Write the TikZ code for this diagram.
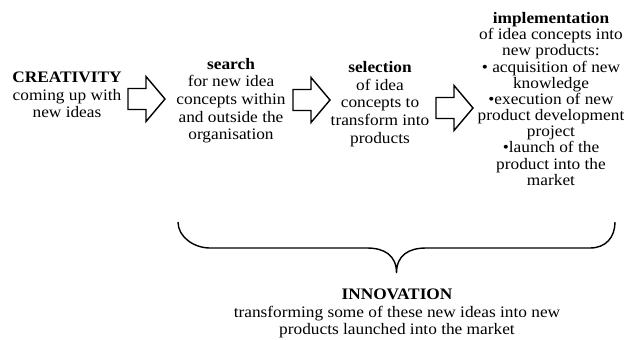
\documentclass[tikz,border=0pt]{standalone}
\usepackage{fontspec}
\setmainfont{Liberation Serif}[FakeStretch=1.08]
\usetikzlibrary{positioning}
\tikzstyle{phase} = [align=center, inner sep=0pt, font=\fontsize{11.4}{12.6}\selectfont]
\tikzstyle{phaselong} = [phase, font=\fontsize{11.4}{11.5}\selectfont]
\tikzstyle{blockarrow} = [draw=black, fill=white, line width=1pt, line join=miter]

\begin{document}
\begin{tikzpicture}
    \useasboundingbox (0,0) rectangle (15.6,8.475);
    % The four phases
    \node[phase] (creativity) at (1.675,6.1)
        {\textbf{CREATIVITY}\\coming up with\\new ideas};
    \node[phase] (search) at (5.775,5.96)
        {\textbf{search}\\for new idea\\concepts within\\and outside the\\organisation};
    \node[phase] (selection) at (9.5,5.875)
        {\textbf{selection}\\of idea\\concepts to\\transform into\\products};
    \node[phaselong] (implementation) at (13.775,6.0)
        {\textbf{implementation}\\of idea concepts into\\new products:\\%
         • acquisition of new\\knowledge\\•execution of new\\%
         product development\\project\\•launch of the\\%
         product into the\\market};
    % Block arrows between the phases
    \foreach \x/\y in {3.2/6.0, 7.325/5.975, 10.9/5.775}
        \draw[blockarrow] (\x,\y+0.2625) -- ++(0.45,0) -- ++(0,0.3)
            -- ++(0.475,-0.5625) -- ++(-0.475,-0.5625) -- ++(0,0.3)
            -- ++(-0.45,0) -- cycle;
    % Brace under search, selection and implementation
    \coordinate (brace_l) at (4.45,2.925);
    \coordinate (brace_r) at (15.375,2.925);
    \coordinate (tip) at (9.9125,1.65);
    \draw[line width=1pt] (brace_l) .. controls (4.45,2.55) and (4.85,2.275) .. (5.25,2.275)
        -- (9.175,2.275) .. controls (9.6,2.275) and (9.9125,2.1) .. (tip)
        .. controls (9.9125,2.1) and (10.225,2.275) .. (10.65,2.275)
        -- (14.75,2.275) .. controls (15.15,2.275) and (15.375,2.55) .. (brace_r);
    \node[phase] (innovation) at (9.925,0.6375)
        {\textbf{INNOVATION}\\transforming some of these new ideas into new\\%
         products launched into the market};
\end{tikzpicture}
\end{document}
